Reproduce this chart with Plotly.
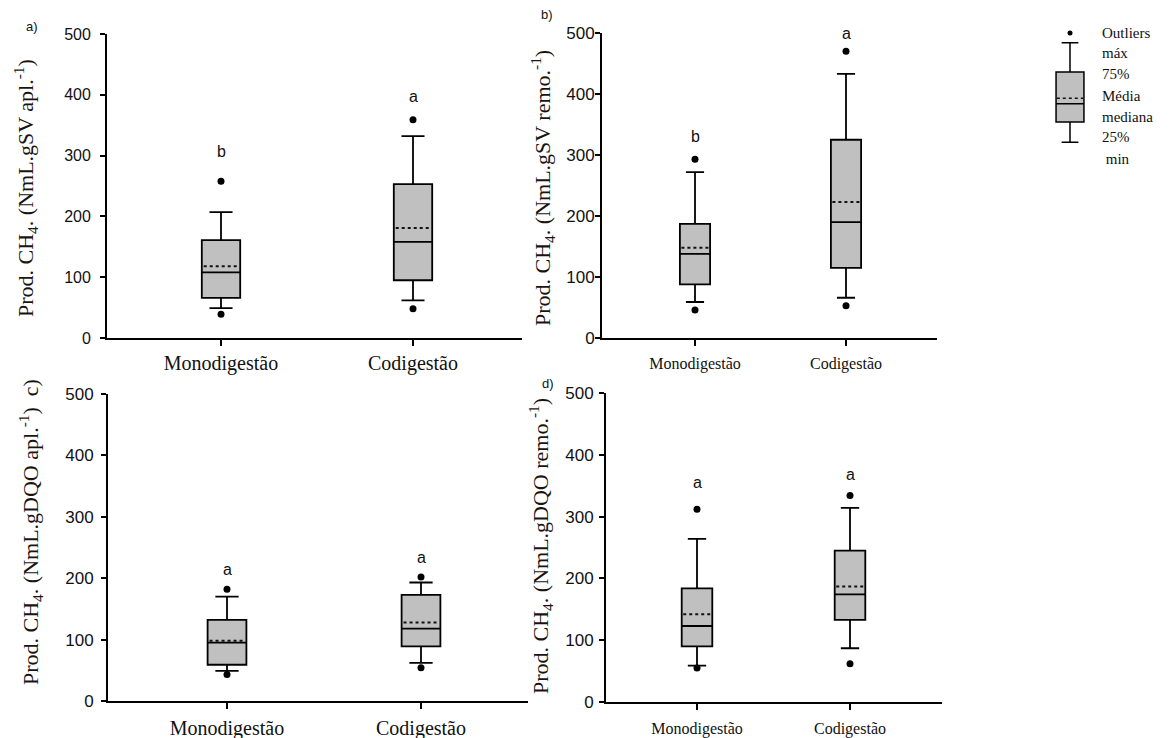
import plotly.graph_objects as go

W, H = 1169, 738
OFF = 8  # page body margin compensation

cats = ["Monodigestão", "Codigestão"]
y_ticks = [0, 100, 200, 300, 400, 500]

# panel a
a_q1 = [66, 95]; a_med = [108, 158]; a_q3 = [161, 253]; a_mean = [118, 181]
a_lo = [49, 62]; a_hi = [207, 332]; a_out_hi = [258, 359]; a_out_lo = [39, 48]
a_let = ["b", "a"]; a_let_y = [306, 398]
# panel b
b_q1 = [88, 115]; b_med = [138, 190]; b_q3 = [187, 325]; b_mean = [148, 223]
b_lo = [59, 66]; b_hi = [272, 433]; b_out_hi = [293, 470]; b_out_lo = [46, 53]
b_let = ["b", "a"]; b_let_y = [331, 500]
# panel c
c_q1 = [59, 89]; c_med = [95, 118]; c_q3 = [132, 173]; c_mean = [98, 128]
c_lo = [49, 62]; c_hi = [170, 193]; c_out_hi = [182, 202]; c_out_lo = [43, 54]
c_let = ["a", "a"]; c_let_y = [214, 233]
# panel d
d_q1 = [90, 133]; d_med = [123, 174]; d_q3 = [184, 245]; d_mean = [142, 187]
d_lo = [59, 87]; d_hi = [264, 314]; d_out_hi = [312, 334]; d_out_lo = [55, 62]
d_let = ["a", "a"]; d_let_y = [355, 368]

# legend key box
key_q1 = [354]; key_med = [384]; key_q3 = [436]; key_mean = [393]
key_lo = [321]; key_hi = [484]; key_out = [500]
key_labels = ["Outliers", "máx", "75%", "Média", "mediana", "25%", " min"]

titles = [
    "Prod. CH<sub>4</sub>. (NmL.gSV apl.<sup>-1</sup>)",
    "Prod. CH<sub>4</sub>. (NmL.gSV remo.<sup>-1</sup>)",
    "Prod. CH<sub>4</sub>. (NmL.gDQO apl.<sup>-1</sup>)  c)",
    "Prod. CH<sub>4</sub>. (NmL.gDQO remo.<sup>-1</sup>)",
]


def px(x):
    return (x - OFF) / W


def py(y):
    return 1 - (y - OFF) / H


GRAY = "#c0c0c0"
SERIF = "Liberation Serif, Times New Roman, serif"
SANS = "Liberation Sans, Arial, sans-serif"
BOXW = 0.2

fig = go.Figure()

panels = [
    dict(q1=a_q1, med=a_med, q3=a_q3, mean=a_mean, lo=a_lo, hi=a_hi, oh=a_out_hi, ol=a_out_lo,
         let=a_let, ly=a_let_y, x0=107, x1=522, yt=34, yb=338, cm=221, cc=413,
         ts=16, cs=20, standoff=6, xstand=0),
    dict(q1=b_q1, med=b_med, q3=b_q3, mean=b_mean, lo=b_lo, hi=b_hi, oh=b_out_hi, ol=b_out_lo,
         let=b_let, ly=b_let_y, x0=602, x1=937, yt=33, yb=338, cm=695, cc=846,
         ts=17, cs=16, standoff=-3, xstand=4),
    dict(q1=c_q1, med=c_med, q3=c_q3, mean=c_mean, lo=c_lo, hi=c_hi, oh=c_out_hi, ol=c_out_lo,
         let=c_let, ly=c_let_y, x0=108, x1=528, yt=394, yb=701, cm=227, cc=421,
         ts=17, cs=20, standoff=4, xstand=2),
    dict(q1=d_q1, med=d_med, q3=d_q3, mean=d_mean, lo=d_lo, hi=d_hi, oh=d_out_hi, ol=d_out_lo,
         let=d_let, ly=d_let_y, x0=606, x1=942, yt=393, yb=702, cm=697, cc=850,
         ts=17, cs=16, standoff=2, xstand=5),
]

annotations = []
shapes = []
for i, p in enumerate(panels):
    n = "" if i == 0 else str(i + 1)
    xa, ya = "x" + n, "y" + n
    sp = p["cc"] - p["cm"]
    r0 = -(p["cm"] - p["x0"]) / sp
    r1 = 1 + (p["x1"] - p["cc"]) / sp
    fig.add_trace(go.Box(
        x=cats, q1=p["q1"], median=p["med"], q3=p["q3"],
        lowerfence=p["lo"], upperfence=p["hi"], boxpoints=False,
        width=BOXW, whiskerwidth=0.6, fillcolor=GRAY,
        line=dict(color="black", width=1.8), xaxis=xa, yaxis=ya, showlegend=False,
        hoverinfo="skip"))
    fig.add_trace(go.Scatter(
        x=cats + cats, y=p["oh"] + p["ol"], mode="markers",
        marker=dict(color="black", size=7, symbol="circle"),
        xaxis=xa, yaxis=ya, showlegend=False, cliponaxis=False, hoverinfo="skip"))
    # mean (dotted) lines across each box
    for k, m in enumerate(p["mean"]):
        shapes.append(dict(type="line", xref=xa, yref=ya, x0=k - BOXW / 2 + 0.01,
                           x1=k + BOXW / 2 - 0.01, y0=m, y1=m,
                           line=dict(color="#111", width=2, dash="dot")))
    ax = dict(domain=[px(p["x0"]), px(p["x1"])], range=[r0, r1], type="category",
              showline=True, linecolor="black", linewidth=1.8, ticks="outside",
              ticklen=6, tickwidth=1.5, tickcolor="black", showgrid=False, zeroline=False,
              tickfont=dict(family=SERIF, size=p["cs"], color="#111"),
              anchor=ya, ticklabelstandoff=p["xstand"], automargin=False)
    ay = dict(domain=[py(p["yb"]), py(p["yt"])], range=[0, 500], tickvals=y_ticks,
              showline=True, linecolor="black", linewidth=1.8, ticks="outside",
              ticklen=5, tickwidth=1.5, tickcolor="black", showgrid=False, zeroline=False,
              tickfont=dict(family=SANS, size=p["ts"], color="#111"),
              anchor=xa, ticklabelstandoff=p["standoff"], automargin=False)
    fig.update_layout(**{"xaxis" + n: ax, "yaxis" + n: ay})
    for c, t, yv in zip(cats, p["let"], p["ly"]):
        annotations.append(dict(x=c, y=yv, xref=xa, yref=ya, text=t, showarrow=False,
                                font=dict(family=SANS, size=16, color="#111"),
                                xanchor="center", yanchor="middle"))

# y-axis titles
title_pos = [(25, 188), (542, 188), (30, 532), (540, 546)]
for t, (x, y) in zip(titles, title_pos):
    annotations.append(dict(x=px(x), y=py(y), xref="paper", yref="paper", text=t,
                            textangle=-90, showarrow=False,
                            font=dict(family=SERIF, size=22, color="#1a1410"),
                            xanchor="center", yanchor="middle"))

# panel letters
for t, (x, y) in zip(["a)", "b)", "d)"], [(32, 27), (547, 15), (548, 383)]):
    annotations.append(dict(x=px(x), y=py(y), xref="paper", yref="paper", text=t,
                            showarrow=False, font=dict(family=SANS, size=13, color="#111"),
                            xanchor="center", yanchor="middle"))

# legend key
fig.add_trace(go.Box(
    x=[0], q1=key_q1, median=key_med, q3=key_q3,
    lowerfence=key_lo, upperfence=key_hi, boxpoints=False,
    width=0.93, whiskerwidth=0.6, fillcolor=GRAY, line=dict(color="black", width=1.5),
    xaxis="x5", yaxis="y5", showlegend=False, hoverinfo="skip"))
fig.add_trace(go.Scatter(x=[0], y=key_out, mode="markers",
                         marker=dict(color="black", size=5), xaxis="x5", yaxis="y5",
                         showlegend=False, cliponaxis=False, hoverinfo="skip"))
shapes.append(dict(type="line", xref="x5", yref="y5", x0=-0.44, x1=0.44,
                   y0=key_mean[0], y1=key_mean[0],
                   line=dict(color="#111", width=1.5, dash="dot")))
fig.update_layout(
    xaxis5=dict(domain=[px(1040), px(1100)], range=[-1, 1], visible=False, anchor="y5",
                automargin=False),
    yaxis5=dict(domain=[py(338), py(33)], range=[0, 500], visible=False, anchor="x5",
                automargin=False),
)
key_y = [33, 53, 74, 96, 117, 137, 159]
for t, y in zip(key_labels, key_y):
    annotations.append(dict(x=px(1100), y=py(y), xref="paper", yref="paper", text=t,
                            showarrow=False, font=dict(family=SERIF, size=15, color="#111"),
                            xanchor="left", yanchor="middle"))

fig.update_layout(
    width=W, height=H, margin=dict(l=0, r=0, t=0, b=0),
    paper_bgcolor="white", plot_bgcolor="white", annotations=annotations, shapes=shapes,
)

fig.write_html("out.html")
